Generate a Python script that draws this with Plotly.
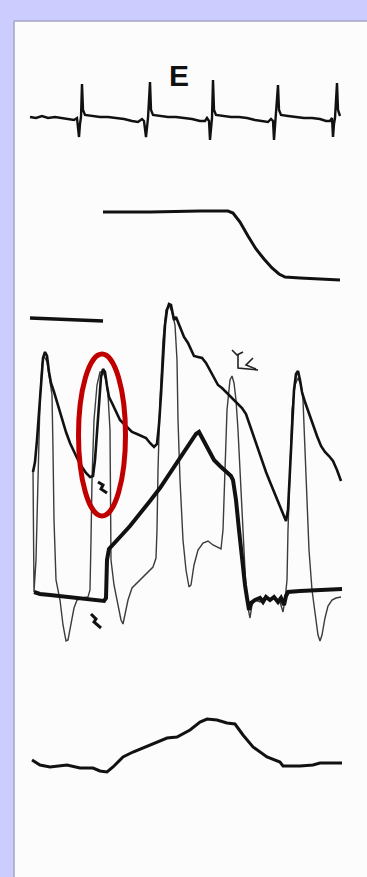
import plotly.graph_objects as go

# ---- recorded channels: (time, amplitude) samples, screen-scaled units ----
ecg = [(30,117),(36,118),(42,116),(48,118),(55,117),(62,118),(68,119),(74,120),(77,118),
       (79,137),(80,124),(81,117),(82,84),(83,110),(85,115),(92,116),(100,117),(108,117),
       (116,118),(124,119),(132,121),(138,122),(142,119),(144,121),(146,137),(147,124),
       (148,118),(150,82),(151,110),(153,115),(160,116),(168,117),(176,117),(184,118),
       (192,119),(200,121),(205,121),(207,118),(209,121),(210,140),(211,124),(212,118),
       (213,80),(214,110),(216,115),(223,116),(231,117),(239,117),(247,118),(255,120),
       (262,121),(268,122),(271,119),(273,121),(274,140),(275,124),(276,118),(278,85),
       (279,110),(281,115),(288,116),(296,117),(304,118),(312,118),(320,119),(326,121),
       (330,121),(332,118),(333,137),(334,124),(335,118),(337,83),(338,110),(340,116)]

step = [(103,212),(150,212),(200,211),(228,211),(233,213),(240,222),(248,236),(256,249),
        (264,259),(272,268),(279,274),(285,277),(300,278),(320,279),(340,280)]

calib_bar = [(30,318),(60,319),(90,320),(103,321)]

upper_ap = [(33,472),(35,462),(37,440),(39,410),(41,378),(43,358),(45,352),(47,356),(49,372),
            (51,383),(54,392),(58,405),(62,420),(66,432),(70,443),(74,452),(78,460),(82,467),
            (86,473),(90,477),(93,476),(95,460),(97,430),(99,400),(101,377),(103,369),(105,372),
            (107,386),(109,397),(112,403),(116,412),(120,420),(124,424),(128,428),(132,432),
            (137,434),(142,436),(146,438),(150,443),(154,447),(157,444),(159,425),(161,395),
            (163,355),(165,325),(167,310),(169,304),(171,305),(173,314),(174,320),(176,317),
            (178,322),(181,330),(184,337),(188,343),(191,350),(194,356),(198,357),(202,358),
            (206,363),(210,370),(214,378),(218,385),(222,388),(226,392),(230,396),(234,400),
            (238,404),(242,408),(246,414),(250,426),(254,438),(258,450),(262,461),(266,472),
            (270,482),(274,492),(278,502),(282,512),(286,521),(288,510),(290,470),(292,420),
            (294,390),(296,374),(298,371),(300,380),(302,392),(305,402),(309,414),(313,426),
            (317,436),(321,446),(325,452),(329,456),(333,461),(337,470),(341,481)]

electrogram = [(33,470),(33.5,530),(34,592),(36,560),(38,470),(40,400),(42,365),(44,356),(47,362),
               (50,380),(52,395),
               (53,450),(54,520),(56,580),(60,600),(63,625),(66,641),(68,640),(71,625),(74,608),
               (77,600),(82,598),(88,597),(90,590),(91,540),(92,480),(94,420),(97,385),(100,372),
               (103,372),(106,380),(108,395),(110,430),(110.5,500),(111,560),(114,585),(118,605),
               (121,620),(123,624),(125,615),(128,600),(132,588),(137,583),(143,578),(149,572),
               (153,567),(156,558),(157,530),(158,470),(160,400),(163,340),(166,310),(169,305),
               (172,312),(175,325),(177,360),(178,420),(180,480),(183,540),(186,570),(189,587),
               (191,585),(194,565),(198,550),(203,543),(208,541),(213,545),(218,548),(221,549),
               (223,530),(225,460),(227,410),(230,380),(232,376),(234,383),(236,400),(238,430),
               (240,470),(242,520),(244,565),(246,590),(248,608),(250,618),(252,605),(255,600),
               (260,602),(265,597),(270,600),(275,598),(280,602),(283,612),(285,600),(287,580),
               (288,530),(290,460),(292,410),(295,385),(298,378),(301,385),(303,400),(305,450),
               (307,500),(309,550),(312,590),(315,615),(318,635),(320,641),(322,635),(325,618),
               (328,606),(332,600),(336,598),(341,597)]

monophasic = [(34,592),(40,594),(50,595),(60,596),(70,597),(80,598),(90,599),
              (100,600),(104,601),(106,598),(107,560),(109,549),(113,545),(120,537),(130,526),
              (140,514),(150,501),(160,488),(170,473),(180,458),(190,443),(196,434),(199,432),
              (203,440),(208,450),(214,460),(220,466),(226,471),(231,476),(233,480),(236,500),
              (239,530),(242,560),(245,585),(247,598),(249,610),(251,603),(255,600),(260,598),
              (263,602),(266,597),(270,600),(274,597),(278,602),(281,598),(284,605),(286,596),
              (288,592),(300,591),(315,590),(330,590),(342,589)]

bottom = [(32,760),(40,765),(50,767),(60,766),(67,765),(80,768),(93,768),(100,771),(107,772),
          (113,767),(123,757),(133,752),(150,745),(167,738),(177,737),(190,730),(200,722),
          (207,719),(217,720),(227,723),(235,724),(243,735),(253,747),(267,757),(280,762),
          (283,766),(300,766),(313,765),(320,763),(342,763)]

# small pen marks on the chart
mark_a = [(98,482),(103,485),(101,489),(107,493)]
mark_b = [(91,614),(96,619),(94,622),(101,628)]
pc_mark = [[(232,350),(237,355),(243,352)],
           [(238,355),(238,368),(258,370)],
           [(253,358),(246,365),(256,369)]]

fig = go.Figure()


def add(points, width, color="#111111"):
    xs, ys = zip(*points)
    fig.add_trace(go.Scatter(x=xs, y=ys, mode="lines", hoverinfo="skip",
                             line=dict(color=color, width=width)))


add(ecg, 2.4)
add(step, 3.0)
add(calib_bar, 3.4)
add(electrogram, 1.4, "#3c3c3c")
add(monophasic, 4.0)
add(upper_ap, 2.6)
add(bottom, 3.0)
add(mark_a, 3.0)
add(mark_b, 3.0)
for stroke in pc_mark:
    add(stroke, 1.6, "#222222")

# white sheet on the lavender page
fig.add_shape(type="rect", x0=14, x1=368, y0=21, y1=878, xref="x", yref="y",
              fillcolor="#fcfcfc", line=dict(width=0), layer="below")
fig.add_shape(type="line", x0=14, x1=368, y0=21, y1=21, xref="x", yref="y",
              line=dict(color="#a4a4c4", width=1.5), layer="below")
fig.add_shape(type="line", x0=14, x1=14, y0=21, y1=878, xref="x", yref="y",
              line=dict(color="#a4a4c4", width=1.5), layer="below")

# highlighted complex
fig.add_shape(type="circle", x0=78.5, x1=125.5, y0=354, y1=516, xref="x", yref="y",
              line=dict(color="#c00000", width=5))

fig.add_annotation(x=179, y=75, text="<b>E</b>", showarrow=False,
                   font=dict(family="Liberation Sans, Arial", size=30, color="#111111"),
                   xanchor="center", yanchor="middle")

fig.update_layout(
    width=367, height=877, margin=dict(l=0, r=0, t=0, b=0),
    paper_bgcolor="#ccccff", plot_bgcolor="rgba(0,0,0,0)", showlegend=False,
    xaxis=dict(range=[0, 367], visible=False, fixedrange=True),
    yaxis=dict(range=[877, 0], visible=False, fixedrange=True),
)

fig.write_html("out.html")
